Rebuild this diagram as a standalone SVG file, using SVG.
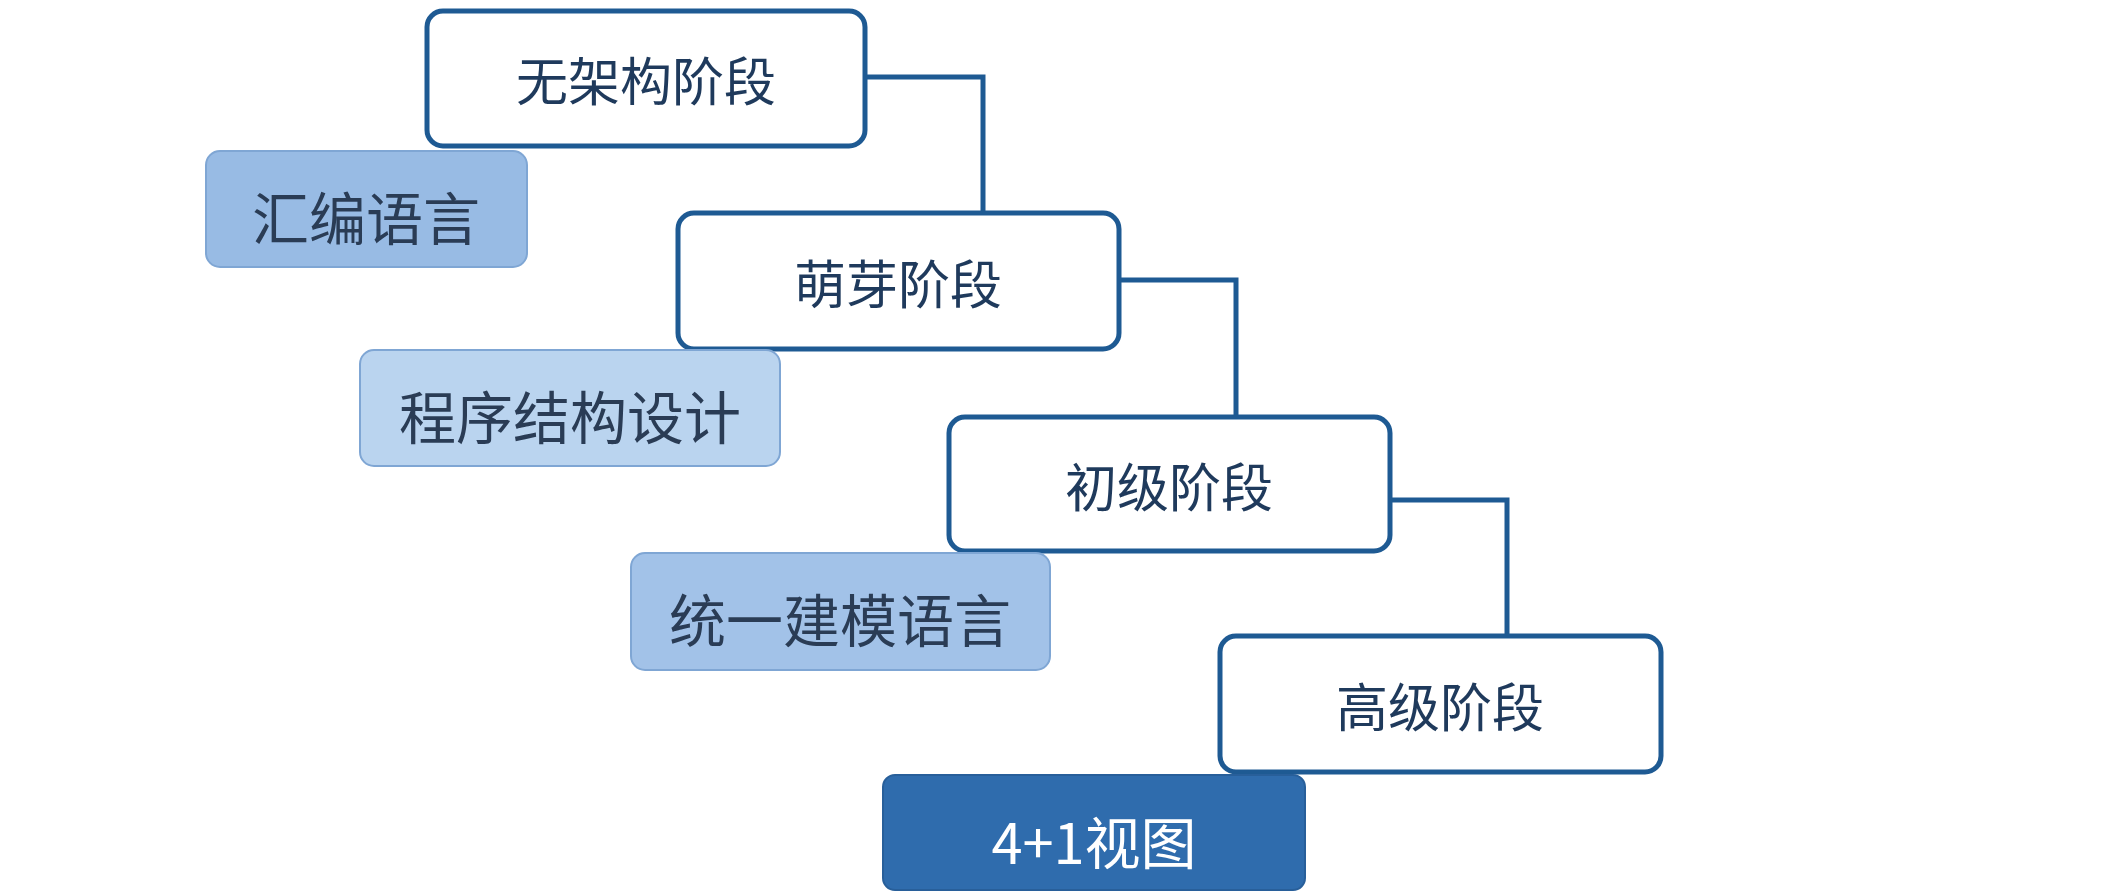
<svg xmlns="http://www.w3.org/2000/svg" width="2114" height="896" viewBox="0 0 2114 896">
<style>
.st{fill:#fff;stroke:#1e5a93;stroke-width:5}
.t{font-family:"Noto Sans CJK SC","Liberation Sans",sans-serif;font-size:52px;fill:#1f3a5c;text-anchor:middle;dominant-baseline:central}
.tl{font-size:57px;fill:#2a3c55}
.tw{fill:#fff;font-size:56px}
.c{fill:none;stroke:#1e5a93;stroke-width:5}
.lb{stroke:#7fa6d4;stroke-width:2}
</style>
<rect width="2114" height="896" fill="#fff"/>
<g id="connectors">
<polyline class="c" points="865,77 983,77 983,213"/>
<polyline class="c" points="1119,280 1236,280 1236,417"/>
<polyline class="c" points="1390,500 1507,500 1507,636"/>
</g>
<g id="n1"><rect class="st" x="427" y="11" width="438" height="135" rx="16"/><text class="t" x="646" y="78">无架构阶段</text></g>
<g id="n2"><rect class="lb" x="206" y="151" width="321" height="116" rx="14" fill="#98bbe4"/><text class="t tl" x="366" y="215">汇编语言</text></g>
<g id="n3"><rect class="st" x="678" y="213" width="441" height="136" rx="16"/><text class="t" x="898" y="281">萌芽阶段</text></g>
<g id="n4"><rect class="lb" x="360" y="350" width="420" height="116" rx="14" fill="#bad4ef"/><text class="t tl" x="570" y="414">程序结构设计</text></g>
<g id="n5"><rect class="st" x="949" y="417" width="441" height="134" rx="16"/><text class="t" x="1169" y="484">初级阶段</text></g>
<g id="n6"><rect class="lb" x="631" y="553" width="419" height="117" rx="14" fill="#a2c2e8"/><text class="t tl" x="840" y="617">统一建模语言</text></g>
<g id="n7"><rect class="st" x="1220" y="636" width="441" height="136" rx="16"/><text class="t" x="1440" y="704">高级阶段</text></g>
<g id="n8"><rect x="883" y="775" width="422" height="115" rx="12" fill="#2f6cad" stroke="#285f9a" stroke-width="2"/><text class="t tw" x="1094" y="839">4+1视图</text></g>
</svg>
